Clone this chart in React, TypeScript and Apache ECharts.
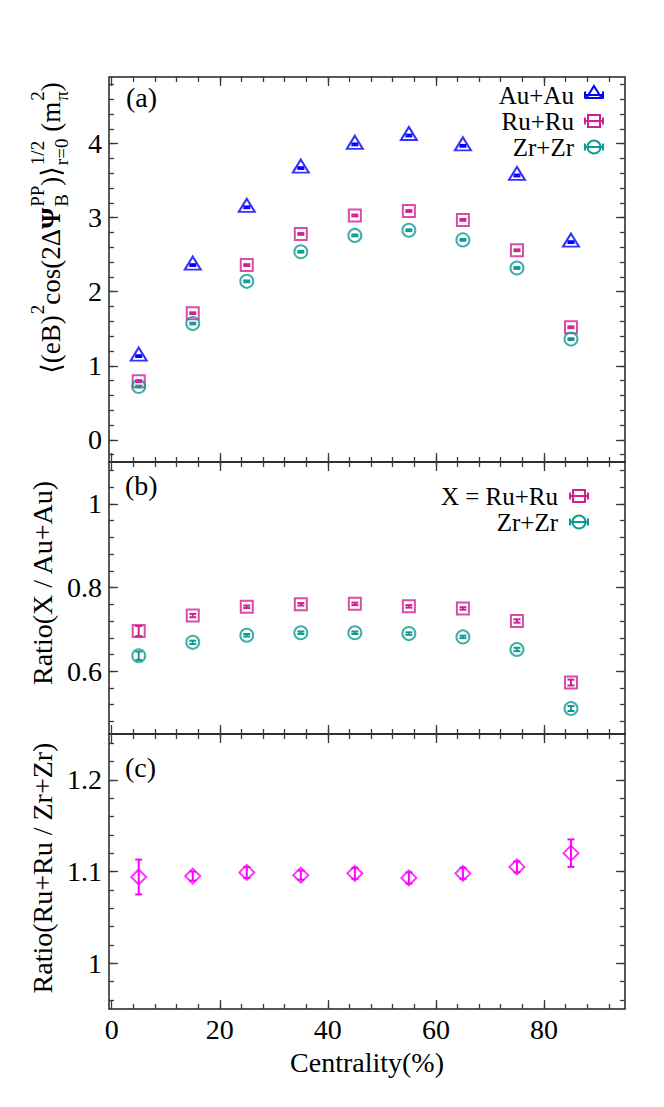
import React, { useEffect, useRef } from 'react';
import * as echarts from 'echarts';

// ---------------- data ----------------
const centrality = [5, 15, 25, 35, 45, 55, 65, 75, 85];

const auField = [1.13, 2.36, 3.14, 3.67, 3.99, 4.11, 3.97, 3.57, 2.67];
const ruField = [0.79, 1.71, 2.36, 2.78, 3.03, 3.09, 2.97, 2.56, 1.52];
const zrField = [0.72, 1.57, 2.14, 2.54, 2.76, 2.83, 2.7, 2.32, 1.36];
const auFieldErr = [0.012, 0.012, 0.012, 0.012, 0.012, 0.012, 0.012, 0.012, 0.012];
const ruFieldErr = [0.012, 0.012, 0.012, 0.012, 0.012, 0.012, 0.012, 0.012, 0.012];
const zrFieldErr = [0.012, 0.012, 0.012, 0.012, 0.012, 0.012, 0.012, 0.012, 0.012];

const ruOverAu = [0.696, 0.733, 0.754, 0.76, 0.761, 0.755, 0.75, 0.72, 0.573];
const ruOverAuErr = [0.012, 0.004, 0.003, 0.003, 0.003, 0.003, 0.003, 0.004, 0.007];
const zrOverAu = [0.637, 0.669, 0.686, 0.692, 0.692, 0.69, 0.682, 0.652, 0.511];
const zrOverAuErr = [0.01, 0.004, 0.003, 0.003, 0.003, 0.003, 0.003, 0.004, 0.006];

const ruOverZr = [1.094, 1.095, 1.099, 1.096, 1.098, 1.093, 1.098, 1.105, 1.12];
const ruOverZrErr = [0.019, 0.005, 0.006, 0.005, 0.006, 0.006, 0.006, 0.006, 0.015];

const xMajorTicks = [0, 20, 40, 60, 80];
const yMajorA = [0, 1, 2, 3, 4];
const yMajorB = [0.6, 0.8, 1];
const yMajorC = [1, 1.1, 1.2];

const legendA = ['Au+Au', 'Ru+Ru', 'Zr+Zr'];
const legendB = ['X = Ru+Ru', 'Zr+Zr'];
const panelTags = ['(a)', '(b)', '(c)'];
const xTitle = 'Centrality(%)';
const yTitleB = 'Ratio(X / Au+Au)';
const yTitleC = 'Ratio(Ru+Ru / Zr+Zr)';

// ---------------- style ----------------
const FONT_FAMILY = '"Liberation Serif", "Times New Roman", "DejaVu Serif", serif';
const FS = 28;
const LFS = 25;
const C_AU = '#0000ff';
const C_RU = '#cf2191';
const C_ZR = '#109a94';
const C_RR = '#ff00ff';
const AXIS_C = '#3a3a3a';

const X_MIN = -0.5;
const X_MAX = 95;
const LEFT = 109;
const WIDTH = 516;
const GRIDS = [
  { top: 77, height: 385, min: -0.3, max: 4.9, major: yMajorA, minorStart: -0.2, minorStep: 0.2, minorN: 26 },
  { top: 462, height: 272, min: 0.45, max: 1.1, major: yMajorB, minorStart: 0.48, minorStep: 0.04, minorN: 16 },
  { top: 734, height: 275, min: 0.95, max: 1.25, major: yMajorC, minorStart: 0.96, minorStep: 0.02, minorN: 15 },
];

const steps = (start: number, step: number, n: number) =>
  Array.from({ length: n }, (_, i) => +(start + step * i).toFixed(4));
const xMinorTicks = steps(4, 4, 23);

const fmt = (v: number) => String(+(+v).toFixed(3));

function buildAxes() {
  const xAxis: any[] = [];
  const yAxis: any[] = [];
  GRIDS.forEach((g, gi) => {
    const xb = {
      type: 'value', gridIndex: gi, min: X_MIN, max: X_MAX,
      axisLine: { show: false, onZero: false }, splitLine: { show: false }, minorTick: { show: false },
    };
    const tickStyle = { color: AXIS_C, width: 1.3 };
    const isLast = gi === GRIDS.length - 1;
    xAxis.push({
      ...xb, position: 'bottom',
      axisTick: { show: true, inside: true, length: 9, customValues: xMajorTicks, lineStyle: tickStyle },
      axisLabel: isLast
        ? { show: true, customValues: xMajorTicks, margin: 6, color: '#000', fontSize: FS, fontFamily: FONT_FAMILY, formatter: fmt }
        : { show: false },
    });
    xAxis.push({ ...xb, position: 'bottom', axisTick: { show: true, inside: true, length: 5, customValues: xMinorTicks, lineStyle: tickStyle }, axisLabel: { show: false } });
    xAxis.push({ ...xb, position: 'top', axisTick: { show: true, inside: true, length: 9, customValues: xMajorTicks, lineStyle: tickStyle }, axisLabel: { show: false } });
    xAxis.push({ ...xb, position: 'top', axisTick: { show: true, inside: true, length: 5, customValues: xMinorTicks, lineStyle: tickStyle }, axisLabel: { show: false } });

    const yb = {
      type: 'value', gridIndex: gi, min: g.min, max: g.max,
      axisLine: { show: false, onZero: false }, splitLine: { show: false }, minorTick: { show: false },
    };
    const yMinor = steps(g.minorStart, g.minorStep, g.minorN);
    yAxis.push({
      ...yb, position: 'left',
      axisTick: { show: true, inside: true, length: 9, customValues: g.major, lineStyle: tickStyle },
      axisLabel: { show: true, customValues: g.major, margin: 7, color: '#000', fontSize: FS, fontFamily: FONT_FAMILY, formatter: fmt },
    });
    yAxis.push({ ...yb, position: 'left', axisTick: { show: true, inside: true, length: 5, customValues: yMinor, lineStyle: tickStyle }, axisLabel: { show: false } });
    yAxis.push({ ...yb, position: 'right', axisTick: { show: true, inside: true, length: 9, customValues: g.major, lineStyle: tickStyle }, axisLabel: { show: false } });
    yAxis.push({ ...yb, position: 'right', axisTick: { show: true, inside: true, length: 5, customValues: yMinor, lineStyle: tickStyle }, axisLabel: { show: false } });
  });
  return { xAxis, yAxis };
}

function errRender(color: string, cap: number) {
  return (params: any, api: any) => {
    const x = api.value(0);
    const y = api.value(1);
    const e = api.value(2);
    const lo = api.coord([x, y - e]);
    const hi = api.coord([x, y + e]);
    const style = { stroke: color, lineWidth: 2 };
    return {
      type: 'group',
      children: [
        { type: 'line', shape: { x1: lo[0], y1: lo[1], x2: hi[0], y2: hi[1] }, style },
        { type: 'line', shape: { x1: lo[0] - cap, y1: lo[1], x2: lo[0] + cap, y2: lo[1] }, style },
        { type: 'line', shape: { x1: hi[0] - cap, y1: hi[1], x2: hi[0] + cap, y2: hi[1] }, style },
      ],
    };
  };
}

function pointSeries(name: string, gi: number, vals: number[], errs: number[], color: string, symbol: string, size: any, offset: number[]) {
  return [
    {
      name, type: 'scatter', xAxisIndex: gi * 4, yAxisIndex: gi * 4,
      data: centrality.map((c, i) => [c, vals[i]]),
      symbol, symbolSize: size, symbolOffset: offset,
      itemStyle: { color: 'rgba(0,0,0,0)', borderColor: color, borderWidth: 2 },
      z: 3, silent: true,
    },
    {
      name: name + ' err', type: 'custom', xAxisIndex: gi * 4, yAxisIndex: gi * 4,
      data: centrality.map((c, i) => [c, vals[i], errs[i]]),
      encode: { x: 0, y: 1 },
      renderItem: errRender(color, 3.5),
      z: 4, silent: true,
    },
  ];
}

function measure(text: string, size: number, bold = false) {
  const ctx = document.createElement('canvas').getContext('2d')!;
  ctx.font = `${bold ? 'bold ' : ''}${size}px ${FONT_FAMILY}`;
  return ctx.measureText(text).width;
}

function txt(text: string, x: number, y: number, size: number, extra: any = {}) {
  const style: any = {
    text, font: `${extra.bold ? 'bold ' : ''}${size}px ${FONT_FAMILY}`, fill: extra.fill || '#000',
    align: extra.align || 'left', verticalAlign: 'middle',
    textAlign: extra.align || 'left', textVerticalAlign: 'middle',
  };
  return {
    type: 'text', x, y,
    style,
    rotation: extra.rotation || 0,
    silent: true,
  };
}

function yTitleA() {
  const segs: any[] = [
    { main: '⟨(eB)' }, { sup: '2' }, { main: 'cos(2Δ' }, { main: 'Ψ', bold: true },
    { sub: 'B', sup: 'PP' }, { main: ')⟩' }, { sup: '1/2', sub: 'r=0' },
    { main: ' (m' }, { sub: 'π', sup: '2' }, { main: ')' },
  ];
  const MS = 27;
  const SS = 19;
  const children: any[] = [];
  let cur = 0;
  segs.forEach((s) => {
    if (s.main) {
      children.push(txt(s.main, cur, 0, MS, { bold: s.bold }));
      cur += measure(s.main, MS, s.bold);
    } else {
      let w = 0;
      if (s.sup) {
        children.push(txt(s.sup, cur + 1, -14, SS));
        w = Math.max(w, measure(s.sup, SS));
      }
      if (s.sub) {
        children.push(txt(s.sub, cur + 1, 10, SS));
        w = Math.max(w, measure(s.sub, SS));
      }
      cur += w + 1;
    }
  });
  return { type: 'group', x: 51, y: 228 + cur / 2, rotation: Math.PI / 2, children, silent: true };
}

function legendIcon(kind: string, cx: number, cy: number, color: string) {
  const style = { stroke: color, lineWidth: 2, fill: 'none' };
  const els: any[] = [
    { type: 'line', shape: { x1: cx - 9, y1: cy, x2: cx + 9, y2: cy }, style },
    { type: 'line', shape: { x1: cx - 9, y1: cy - 3.5, x2: cx - 9, y2: cy + 3.5 }, style },
    { type: 'line', shape: { x1: cx + 9, y1: cy - 3.5, x2: cx + 9, y2: cy + 3.5 }, style },
  ];
  if (kind === 'triangle') {
    els.push({ type: 'polygon', shape: { points: [[cx, cy - 9], [cx + 7.5, cy + 3], [cx - 7.5, cy + 3]] }, style });
  } else if (kind === 'rect') {
    els.push({ type: 'rect', shape: { x: cx - 6, y: cy - 6, width: 12, height: 12 }, style });
  } else {
    els.push({ type: 'circle', shape: { cx, cy, r: 6.5 }, style });
  }
  return els;
}

function buildOption() {
  const { xAxis, yAxis } = buildAxes();
  const grid = GRIDS.map((g) => ({
    left: LEFT, width: WIDTH, top: g.top, height: g.height,
    show: true, borderColor: '#222', borderWidth: 1.5, backgroundColor: 'transparent',
  }));

  const series: any[] = [
    ...pointSeries(legendA[0], 0, auField, auFieldErr, C_AU, 'triangle', [16, 13], [0, -2]),
    ...pointSeries(legendA[1], 0, ruField, ruFieldErr, C_RU, 'rect', 12, [0, 0]),
    ...pointSeries(legendA[2], 0, zrField, zrFieldErr, C_ZR, 'circle', 13, [0, 0]),
    ...pointSeries('Ru/Au', 1, ruOverAu, ruOverAuErr, C_RU, 'rect', 12, [0, 0]),
    ...pointSeries('Zr/Au', 1, zrOverAu, zrOverAuErr, C_ZR, 'circle', 13, [0, 0]),
    ...pointSeries('Ru/Zr', 2, ruOverZr, ruOverZrErr, C_RR, 'diamond', 15, [0, 0]),
  ];

  const rowsA = [95, 121, 147];
  const rowsB = [496, 522];
  const graphic: any[] = [
    txt(panelTags[0], 126, 97.5, FS),
    txt(panelTags[1], 125, 485, FS),
    txt(panelTags[2], 125, 767, FS),
    // legend (a)
    ...legendA.map((t, i) => txt(t, 574, rowsA[i], LFS, { align: 'right' })),
    ...legendIcon('triangle', 594, rowsA[0], C_AU),
    ...legendIcon('rect', 594, rowsA[1], C_RU),
    ...legendIcon('circle', 594, rowsA[2], C_ZR),
    // legend (b)
    ...legendB.map((t, i) => txt(t, 558, rowsB[i], LFS, { align: 'right' })),
    ...legendIcon('rect', 579, rowsB[0], C_RU),
    ...legendIcon('circle', 579, rowsB[1], C_ZR),
    // axis titles
    txt(xTitle, 367, 1062, FS, { align: 'center' }),
    txt(yTitleB, 42, 583, FS, { align: 'center', rotation: Math.PI / 2 }),
    txt(yTitleC, 42, 868, FS, { align: 'center', rotation: Math.PI / 2 }),
    yTitleA(),
  ];

  return {
    animation: false,
    backgroundColor: '#fff',
    textStyle: { fontFamily: FONT_FAMILY },
    grid, xAxis, yAxis, series, graphic,
  };
}

export default function App() {
  const ref = useRef<HTMLDivElement>(null);
  useEffect(() => {
    const chart = echarts.init(ref.current!, null, { renderer: 'svg' });
    chart.setOption(buildOption() as any);
    return () => chart.dispose();
  }, []);
  return (
    <div
      ref={ref}
      style={{ position: 'absolute', left: 0, top: 0, width: 664, height: 1107, background: '#fff' }}
    />
  );
}
